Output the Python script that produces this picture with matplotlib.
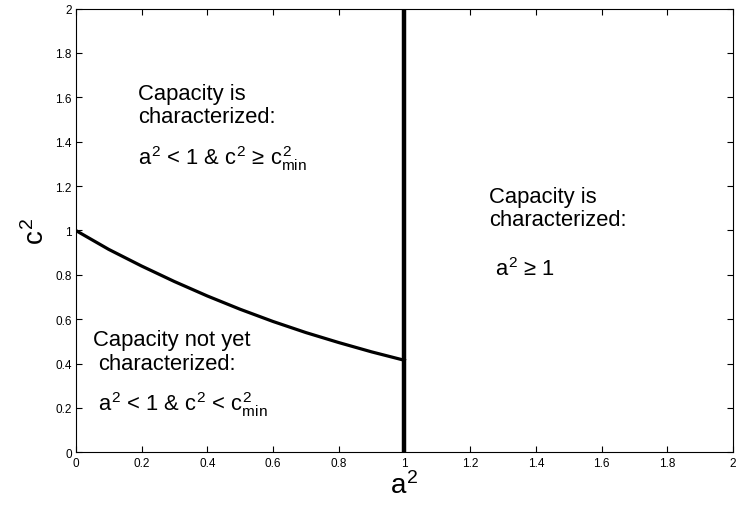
import matplotlib
matplotlib.use("Agg")
import matplotlib.pyplot as plt

plt.rcParams['font.family'] = ['Liberation Sans', 'DejaVu Sans']
plt.rcParams['mathtext.fontset'] = 'custom'
plt.rcParams['mathtext.rm'] = 'Liberation Sans'
plt.rcParams['mathtext.it'] = 'Liberation Sans'
plt.rcParams['mathtext.bf'] = 'Liberation Sans:bold'

# boundary curve c^2_min(a^2)
a2 = [0, 0.1, 0.2, 0.3, 0.4, 0.5, 0.6, 0.7, 0.8, 0.9, 1.0]
c2_min = [1.0, 0.915, 0.84, 0.77, 0.705, 0.645, 0.59, 0.54, 0.495, 0.453, 0.415]

# vertical border at a^2 = 1
border_x = [1, 1]
border_y = [0, 2]

x_ticks = [0, 0.2, 0.4, 0.6, 0.8, 1, 1.2, 1.4, 1.6, 1.8, 2]
y_ticks = [0, 0.2, 0.4, 0.6, 0.8, 1, 1.2, 1.4, 1.6, 1.8, 2]
tick_labels = ["0", "0.2", "0.4", "0.6", "0.8", "1", "1.2", "1.4", "1.6", "1.8", "2"]

fig = plt.figure(figsize=(7.36, 5.06), dpi=100)
ax = fig.add_axes([0.103, 0.104, 0.893, 0.877])

ax.plot(a2, c2_min, color="black", linewidth=2.3)
ax.plot(border_x, border_y, color="black", linewidth=3.2)

ax.set_xlim(0, 2)
ax.set_ylim(0, 2)
ax.set_xticks(x_ticks)
ax.set_yticks(y_ticks)
ax.set_xticklabels(tick_labels)
ax.set_yticklabels(tick_labels)
ax.tick_params(direction="in", top=True, right=True, labelsize=8.5, length=4, pad=3)

ax.set_xlabel("$a^2$", fontsize=20, labelpad=2)
ax.set_ylabel("$c^2$", fontsize=20, labelpad=4)

fs = 15.8
# upper left region
ax.text(0.19, 1.593, "Capacity is", fontsize=fs, va="baseline")
ax.text(0.19, 1.488, "characterized:", fontsize=fs, va="baseline")
ax.text(0.19, 1.298, "$a^2$ < 1 & $c^2$ \u2265 $c^2_{min}$", fontsize=fs, va="baseline")

# right region
ax.text(1.257, 1.130, "Capacity is", fontsize=fs, va="baseline")
ax.text(1.257, 1.027, "characterized:", fontsize=fs, va="baseline")
ax.text(1.277, 0.801, "$a^2$ \u2265 1", fontsize=fs, va="baseline")

# lower left region
ax.text(0.051, 0.482, "Capacity not yet", fontsize=fs, va="baseline")
ax.text(0.067, 0.377, "characterized:", fontsize=fs, va="baseline")
ax.text(0.067, 0.189, "$a^2$ < 1 & $c^2$ < $c^2_{min}$", fontsize=fs, va="baseline")

plt.savefig("out.png", dpi=100)
